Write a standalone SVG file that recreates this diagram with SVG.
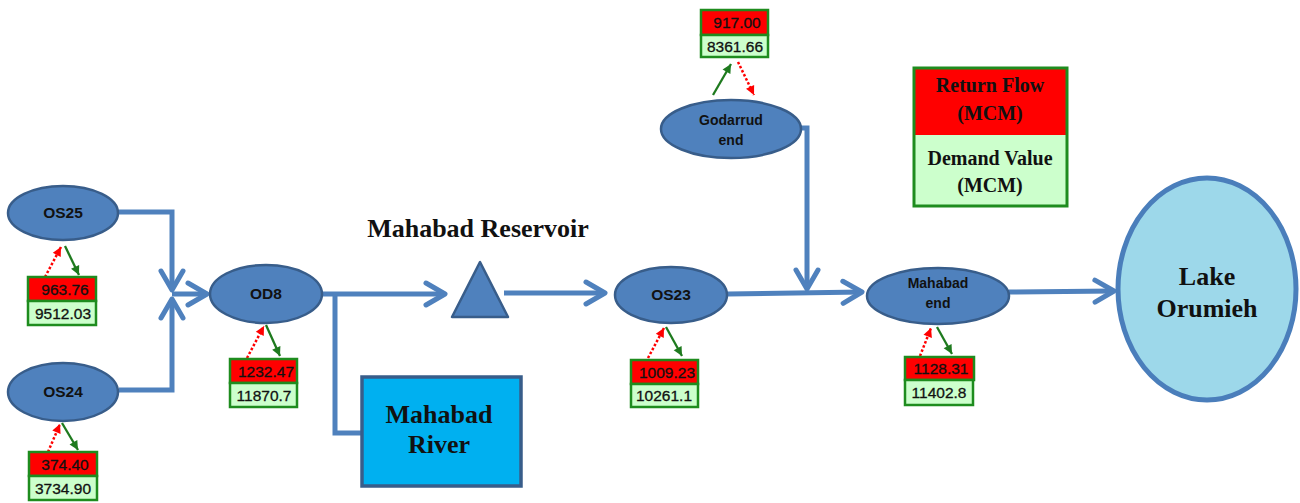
<svg xmlns="http://www.w3.org/2000/svg" width="1300" height="503" viewBox="0 0 1300 503">
<style>
.flow{fill:none;stroke:#4f81bd;stroke-width:5;stroke-linejoin:miter}
.node{fill:#4f81bd;stroke:#385d8a;stroke-width:2.5}
.nt{font-family:"Liberation Sans",Arial,sans-serif;font-weight:bold;fill:#111;text-anchor:middle}
.big{font-family:"Liberation Serif","Times New Roman",serif;font-weight:bold;fill:#111;text-anchor:middle}
.rb{fill:#ff0000;stroke:#1e8c1e;stroke-width:2.5}
.gb{fill:#ccffcc;stroke:#1e8c1e;stroke-width:2.5}
.num{font-family:"Liberation Sans",Arial,sans-serif;font-size:15.5px;fill:#111;text-anchor:middle;stroke:#111;stroke-width:0.3}
.ret{fill:none;stroke:#ff0000;stroke-width:2.5;stroke-dasharray:2.5 2}
.dem{fill:none;stroke:#1e7a1e;stroke-width:2.3}
</style>
<defs>
<marker id="chev" markerUnits="userSpaceOnUse" markerWidth="40" markerHeight="40" refX="0" refY="0" orient="auto" overflow="visible">
<path d="M-19,-11 L0,0 L-19,11" fill="none" stroke="#4f81bd" stroke-width="5" stroke-linejoin="round" stroke-linecap="round"/>
</marker>
<marker id="ah-red" markerUnits="userSpaceOnUse" markerWidth="12" markerHeight="12" refX="0" refY="0" orient="auto" overflow="visible">
<path d="M-9,-4.5 L0,0 L-9,4.5 Z" fill="#ff0000"/>
</marker>
<marker id="ah-green" markerUnits="userSpaceOnUse" markerWidth="12" markerHeight="12" refX="0" refY="0" orient="auto" overflow="visible">
<path d="M-9,-4.5 L0,0 L-9,4.5 Z" fill="#1e7a1e"/>
</marker>
</defs>

<g id="connectors">
<path class="flow" d="M119,212 L172,212 L172,290" marker-end="url(#chev)"/>
<path class="flow" d="M119,390 L172,390 L172,299" marker-end="url(#chev)"/>
<path class="flow" d="M172,294 L207,294" marker-end="url(#chev)"/>
<path class="flow" d="M323,294 L445,294" marker-end="url(#chev)"/>
<path class="flow" d="M335,294 L335,433 L362,433"/>
<path class="flow" d="M504,293 L605,293" marker-end="url(#chev)"/>
<path class="flow" d="M728,294 L862,292" marker-end="url(#chev)"/>
<path class="flow" d="M800,128 L807,128 L807,289" marker-end="url(#chev)"/>
<path class="flow" d="M1009,292 L1114,291" marker-end="url(#chev)"/>
</g>

<g id="title">
<text class="big" x="478" y="237" font-size="26">Mahabad Reservoir</text>
</g>

<g id="node-OS25">
<ellipse class="node" cx="63" cy="213" rx="55" ry="27"/>
<text class="nt" x="63" y="218" font-size="15.5">OS25</text>
<path class="ret" d="M45,277 L61,247" marker-end="url(#ah-red)"/>
<path class="dem" d="M65,246 L79,275" marker-end="url(#ah-green)"/>
<rect class="rb" x="28" y="277" width="68" height="24"/>
<rect class="gb" x="28" y="301" width="68" height="24"/>
<text class="num" x="65" y="295">963.76</text>
<text class="num" x="63" y="319">9512.03</text>
</g>

<g id="node-OS24">
<ellipse class="node" cx="63" cy="392" rx="55" ry="29"/>
<text class="nt" x="63" y="397" font-size="15.5">OS24</text>
<path class="ret" d="M48,452 L60,424" marker-end="url(#ah-red)"/>
<path class="dem" d="M62,423 L78,450" marker-end="url(#ah-green)"/>
<rect class="rb" x="29" y="452" width="68" height="24"/>
<rect class="gb" x="29" y="476" width="68" height="24"/>
<text class="num" x="65" y="470">374.40</text>
<text class="num" x="63" y="494">3734.90</text>
</g>

<g id="node-OD8">
<ellipse class="node" cx="266" cy="294" rx="56" ry="29"/>
<text class="nt" x="266" y="299" font-size="15.5">OD8</text>
<path class="ret" d="M247,358 L264,326" marker-end="url(#ah-red)"/>
<path class="dem" d="M266,325 L280,356" marker-end="url(#ah-green)"/>
<rect class="rb" x="230" y="359" width="67" height="24"/>
<rect class="gb" x="230" y="383" width="67" height="24"/>
<text class="num" x="266" y="377">1232.47</text>
<text class="num" x="264" y="401">11870.7</text>
</g>

<g id="node-reservoir">
<polygon points="480,262 452,317 508,317" fill="#4f81bd" stroke="#385d8a" stroke-width="2.5" stroke-linejoin="round"/>
</g>

<g id="node-river">
<rect x="362" y="377" width="159" height="109" fill="#00b0f0" stroke="#385d8a" stroke-width="3.5"/>
<text class="big" x="439" y="423" font-size="26">Mahabad</text>
<text class="big" x="439" y="453" font-size="26">River</text>
</g>

<g id="node-OS23">
<ellipse class="node" cx="671" cy="295" rx="56" ry="28"/>
<text class="nt" x="671" y="300" font-size="15.5">OS23</text>
<path class="ret" d="M648,358 L664,328" marker-end="url(#ah-red)"/>
<path class="dem" d="M666,327 L682,356" marker-end="url(#ah-green)"/>
<rect class="rb" x="631" y="360" width="67" height="24"/>
<rect class="gb" x="631" y="384" width="67" height="23"/>
<text class="num" x="667" y="378">1009.23</text>
<text class="num" x="664" y="401">10261.1</text>
</g>

<g id="node-godarrud">
<ellipse class="node" cx="731" cy="129" rx="70" ry="29"/>
<text class="nt" x="731" y="125" font-size="14">Godarrud</text>
<text class="nt" x="731" y="145" font-size="14">end</text>
<path class="dem" d="M713,95 L731,64" marker-end="url(#ah-green)"/>
<path class="ret" d="M738,62 L754,95" marker-end="url(#ah-red)"/>
<rect class="rb" x="701" y="10" width="67" height="25"/>
<rect class="gb" x="701" y="35" width="67" height="22"/>
<text class="num" x="737" y="28">917.00</text>
<text class="num" x="735" y="52">8361.66</text>
</g>

<g id="node-mahabad-end">
<ellipse class="node" cx="938" cy="296" rx="71" ry="28"/>
<text class="nt" x="938" y="288" font-size="14">Mahabad</text>
<text class="nt" x="938" y="308" font-size="14">end</text>
<path class="ret" d="M920,356 L931,328" marker-end="url(#ah-red)"/>
<path class="dem" d="M937,327 L952,354" marker-end="url(#ah-green)"/>
<rect class="rb" x="905" y="357" width="69" height="23"/>
<rect class="gb" x="905" y="380" width="68" height="25"/>
<text class="num" x="941" y="374">1128.31</text>
<text class="num" x="939" y="398">11402.8</text>
</g>

<g id="node-lake">
<ellipse cx="1207" cy="289" rx="89" ry="111" fill="#9dd8ea" stroke="#4a7ebb" stroke-width="5"/>
<text class="big" x="1207" y="285" font-size="26">Lake</text>
<text class="big" x="1207" y="317" font-size="26">Orumieh</text>
</g>

<g id="legend">
<rect x="914" y="68" width="153" height="67" fill="#ff0000"/>
<rect x="914" y="135" width="153" height="71" fill="#ccffcc"/>
<rect x="914" y="68" width="153" height="138" fill="none" stroke="#1e8c1e" stroke-width="3"/>
<text class="big" x="990" y="92" font-size="20">Return Flow</text>
<text class="big" x="990" y="120" font-size="20">(MCM)</text>
<text class="big" x="990" y="165" font-size="20">Demand Value</text>
<text class="big" x="990" y="192" font-size="20">(MCM)</text>
</g>
</svg>
